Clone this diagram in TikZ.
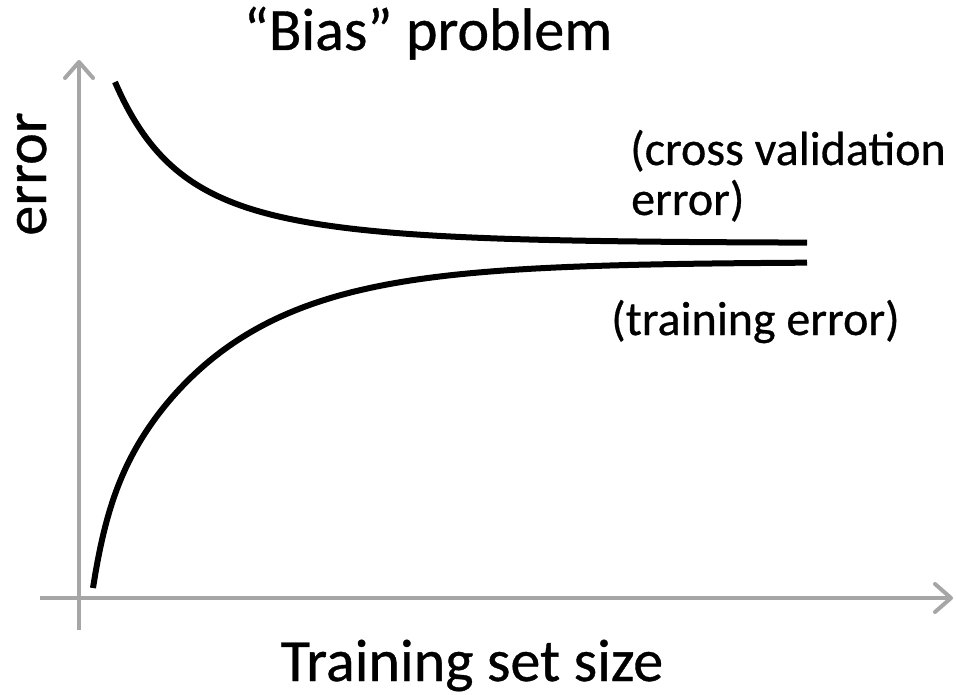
\documentclass[tikz,border=0pt]{standalone}
\usepackage{fontspec}
\setmainfont{Carlito}
\newfontfamily\plotfont{Carlito}[FakeBold=0.6]
\usetikzlibrary{arrows.meta}
\definecolor{axisgray}{RGB}{166,166,166}
\tikzset{
  axisline/.style={draw=axisgray, line width=4pt,
    -{Straight Barb[length=16pt,width=28pt,line cap=round,line join=round]}},
  curveline/.style={draw=black, line width=6pt, line cap=butt, line join=round},
  bigtext/.style={font=\plotfont\fontsize{60}{62}\selectfont, inner sep=0pt},
  labeltext/.style={font=\plotfont\fontsize{48}{50}\selectfont, inner sep=0pt}
}
\begin{document}
\begin{tikzpicture}[x=1pt, y=-1pt]
  \useasboundingbox (0,0) rectangle (956,695);

  % axes
  \coordinate (yfoot) at (79,630);
  \coordinate (ytip)  at (79,60);
  \coordinate (xfoot) at (40,598);
  \coordinate (xtip)  at (953,598);
  \draw[axisline] (yfoot) -- (ytip);
  \draw[axisline] (xfoot) -- (xtip);

  % cross validation error: falls towards its plateau
  \draw[curveline] plot[domain=115:807, samples=240, variable=\t]
    (\t, {243 - 72*exp(-(\t-115)/44) - 89*exp(-(\t-115)/128)});

  % training error: rises towards its plateau
  \draw[curveline] plot[domain=93:807, samples=300, variable=\t]
    (\t, {262 + 65*exp(-(\t-93)/15) + 261*exp(-(\t-93)/120)});

  % texts
  \node[bigtext, anchor=base] (title) at (428,50) {“Bias” problem};
  \node[bigtext, anchor=base, rotate=90] (ylabel) at (46,174) {error};
  \node[bigtext, anchor=base] (xlabel) at (472,681) {Training set size};
  \node[labeltext, anchor=base west] (cvlabel1) at (630,165) {(cross validation};
  \node[labeltext, anchor=base west] (cvlabel2) at (631,215) {error)};
  \node[labeltext, anchor=base west] (trlabel) at (611,335) {(training error)};
\end{tikzpicture}
\end{document}
